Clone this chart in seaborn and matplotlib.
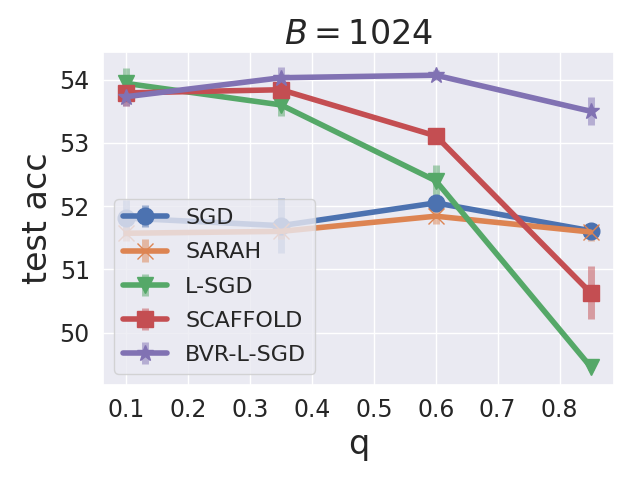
import numpy as np
import matplotlib
matplotlib.use("Agg")
import matplotlib.pyplot as plt
import seaborn as sns

# datos
q = [0.1, 0.35, 0.6, 0.85]
methods = ["SGD", "SARAH", "L-SGD", "SCAFFOLD", "BVR-L-SGD"]
markers = ["o", "x", "v", "s", "*"]
xticks = [0.1, 0.2, 0.3, 0.4, 0.5, 0.6, 0.7, 0.8]
yticks = [50, 51, 52, 53, 54]

sgd_mean = [51.81, 51.69, 52.05, 51.61]
sgd_std = [0.28, 0.43, 0.06, 0.10]
sarah_mean = [51.57, 51.60, 51.84, 51.59]
sarah_std = [0.12, 0.12, 0.13, 0.15]
lsgd_mean = [53.94, 53.60, 52.40, 49.46]
lsgd_std = [0.24, 0.18, 0.25, 0.05]
scaffold_mean = [53.79, 53.84, 53.11, 50.63]
scaffold_std = [0.20, 0.08, 0.10, 0.42]
bvr_mean = [53.73, 54.03, 54.07, 53.50]
bvr_std = [0.15, 0.17, 0.08, 0.22]

means = [sgd_mean, sarah_mean, lsgd_mean, scaffold_mean, bvr_mean]
stds = [sgd_std, sarah_std, lsgd_std, scaffold_std, bvr_std]

sns.set_theme(style="darkgrid", palette="deep")
colors = sns.color_palette("deep")

fig, ax = plt.subplots(figsize=(6.4, 4.8), dpi=100)
for i, name in enumerate(methods):
    cont = ax.errorbar(q, means[i], yerr=stds[i], label=name, color=colors[i],
                       marker=markers[i], markersize=12, linewidth=4,
                       elinewidth=5, capsize=0)
    for col in cont[2]:
        col.set_alpha(0.5)

ax.set_title("$B = 1024$", fontsize=24)
ax.set_xlabel("q", fontsize=24)
ax.set_ylabel("test acc", fontsize=24)
ax.tick_params(labelsize=17)
ax.set_xticks(xticks)
ax.set_yticks(yticks)
ax.legend(loc="lower left", fontsize=16, labelspacing=0.64)

fig.subplots_adjust(left=0.161, right=0.959, top=0.892, bottom=0.198)
fig.savefig("out.png")
